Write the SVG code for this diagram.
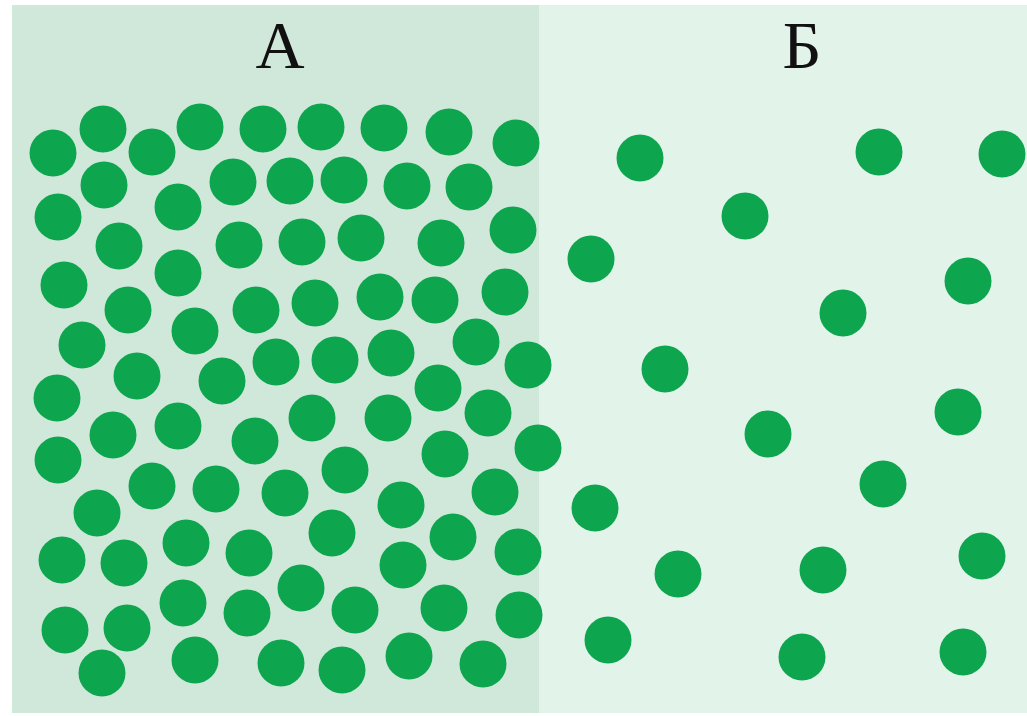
<svg xmlns="http://www.w3.org/2000/svg" width="1027" height="716" viewBox="0 0 1027 716">
<style>
.p{fill:#0da64f}
.lbl{font-family:"Liberation Serif","Times New Roman",serif;font-size:68px;fill:#111;text-anchor:middle}
</style>
<rect x="0" y="0" width="1027" height="716" fill="#ffffff"/>
<rect id="panelA" x="12" y="5" width="527" height="708" fill="#d0e8d9"/>
<rect id="panelB" x="539" y="5" width="488" height="708" fill="#e2f3ea"/>
<text class="lbl" x="280" y="68">А</text>
<text class="lbl" x="802" y="68">Б</text>
<g id="particlesA" class="p">
<circle cx="53" cy="153" r="23.5"/><circle cx="103" cy="129" r="23.5"/><circle cx="152" cy="152" r="23.5"/><circle cx="200" cy="127" r="23.5"/><circle cx="263" cy="129" r="23.5"/>
<circle cx="104" cy="185" r="23.5"/><circle cx="178" cy="207" r="23.5"/><circle cx="233" cy="182" r="23.5"/><circle cx="58" cy="217" r="23.5"/><circle cx="119" cy="246" r="23.5"/>
<circle cx="239" cy="245" r="23.5"/><circle cx="178" cy="273" r="23.5"/><circle cx="64" cy="285" r="23.5"/><circle cx="128" cy="310" r="23.5"/><circle cx="256" cy="310" r="23.5"/>
<circle cx="195" cy="331" r="23.5"/><circle cx="82" cy="345" r="23.5"/><circle cx="137" cy="376" r="23.5"/><circle cx="222" cy="381" r="23.5"/><circle cx="276" cy="362" r="23.5"/>
<circle cx="57" cy="398" r="23.5"/><circle cx="321" cy="127" r="23.5"/><circle cx="384" cy="128" r="23.5"/><circle cx="449" cy="132" r="23.5"/><circle cx="516" cy="143" r="23.5"/>
<circle cx="290" cy="181" r="23.5"/><circle cx="344" cy="180" r="23.5"/><circle cx="407" cy="186" r="23.5"/><circle cx="469" cy="187" r="23.5"/><circle cx="513" cy="230" r="23.5"/>
<circle cx="302" cy="242" r="23.5"/><circle cx="361" cy="238" r="23.5"/><circle cx="441" cy="243" r="23.5"/><circle cx="315" cy="303" r="23.5"/><circle cx="380" cy="297" r="23.5"/>
<circle cx="435" cy="300" r="23.5"/><circle cx="505" cy="292" r="23.5"/><circle cx="476" cy="342" r="23.5"/><circle cx="528" cy="365" r="23.5"/><circle cx="335" cy="360" r="23.5"/>
<circle cx="391" cy="353" r="23.5"/><circle cx="438" cy="388" r="23.5"/><circle cx="113" cy="435" r="23.5"/><circle cx="178" cy="426" r="23.5"/><circle cx="255" cy="441" r="23.5"/>
<circle cx="58" cy="460" r="23.5"/><circle cx="152" cy="486" r="23.5"/><circle cx="216" cy="489" r="23.5"/><circle cx="285" cy="493" r="23.5"/><circle cx="97" cy="513" r="23.5"/>
<circle cx="186" cy="543" r="23.5"/><circle cx="62" cy="560" r="23.5"/><circle cx="124" cy="563" r="23.5"/><circle cx="249" cy="553" r="23.5"/><circle cx="183" cy="603" r="23.5"/>
<circle cx="247" cy="613" r="23.5"/><circle cx="65" cy="630" r="23.5"/><circle cx="127" cy="628" r="23.5"/><circle cx="195" cy="660" r="23.5"/><circle cx="102" cy="673" r="23.5"/>
<circle cx="312" cy="418" r="23.5"/><circle cx="388" cy="418" r="23.5"/><circle cx="488" cy="413" r="23.5"/><circle cx="445" cy="454" r="23.5"/><circle cx="538" cy="448" r="23.5"/>
<circle cx="345" cy="470" r="23.5"/><circle cx="495" cy="492" r="23.5"/><circle cx="401" cy="505" r="23.5"/><circle cx="453" cy="537" r="23.5"/><circle cx="332" cy="533" r="23.5"/>
<circle cx="518" cy="552" r="23.5"/><circle cx="403" cy="565" r="23.5"/><circle cx="301" cy="588" r="23.5"/><circle cx="355" cy="610" r="23.5"/><circle cx="444" cy="608" r="23.5"/>
<circle cx="519" cy="615" r="23.5"/><circle cx="281" cy="663" r="23.5"/><circle cx="342" cy="670" r="23.5"/><circle cx="409" cy="656" r="23.5"/><circle cx="483" cy="664" r="23.5"/>
</g>
<g id="particlesB" class="p">
<circle cx="640" cy="158" r="23.5"/><circle cx="879" cy="152" r="23.5"/><circle cx="1002" cy="154" r="23.5"/><circle cx="745" cy="216" r="23.5"/><circle cx="591" cy="259" r="23.5"/>
<circle cx="968" cy="281" r="23.5"/><circle cx="843" cy="313" r="23.5"/><circle cx="665" cy="369" r="23.5"/><circle cx="958" cy="412" r="23.5"/><circle cx="768" cy="434" r="23.5"/>
<circle cx="883" cy="484" r="23.5"/><circle cx="595" cy="508" r="23.5"/><circle cx="678" cy="574" r="23.5"/><circle cx="823" cy="570" r="23.5"/><circle cx="982" cy="556" r="23.5"/>
<circle cx="608" cy="640" r="23.5"/><circle cx="802" cy="657" r="23.5"/><circle cx="963" cy="652" r="23.5"/>
</g>
</svg>
